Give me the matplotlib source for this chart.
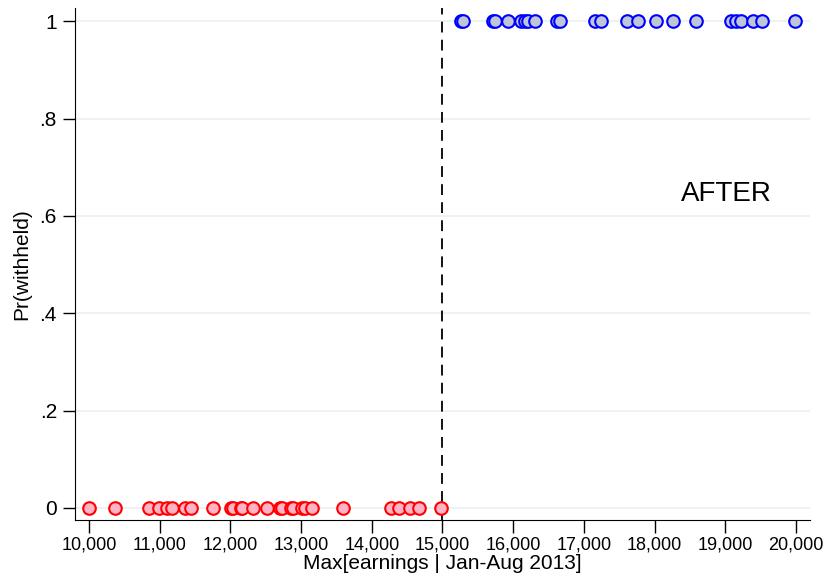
import matplotlib
matplotlib.use("Agg")
import matplotlib.pyplot as plt
from matplotlib.ticker import FuncFormatter

# earnings of units below the threshold (not withheld)
before_x = [10000, 10373, 10845, 10987, 11109, 11171, 11350, 11445, 11747,
            12011, 12040, 12143, 12163, 12313, 12521, 12695, 12724, 12861,
            12885, 13017, 13055, 13159, 13598, 14273, 14391, 14547, 14674,
            14978]
before_y = [0] * len(before_x)

# earnings above the threshold (withheld)
after_x = [15255, 15293, 15712, 15741, 15929, 16105, 16171, 16208, 16303,
           16615, 16662, 17157, 17238, 17606, 17762, 18027, 18263, 18589,
           19079, 19150, 19221, 19387, 19514, 19988]
after_y = [1] * len(after_x)

threshold = 15000
x_ticks = list(range(10000, 20001, 1000))
y_ticks = [0, 0.2, 0.4, 0.6, 0.8, 1.0]
y_ticklabels = ["0", ".2", ".4", ".6", ".8", "1"]

narrow = ["Liberation Sans Narrow", "Liberation Sans", "DejaVu Sans"]
plt.rcParams["font.family"] = ["Liberation Sans", "DejaVu Sans"]

fig = plt.figure(figsize=(8.24, 5.76), dpi=100)
ax = fig.add_axes([0.091, 0.097, 0.892, 0.889])

for yt in y_ticks:
    ax.axhline(yt, color="#eaf0f2", linewidth=1.2, zorder=0)

ax.axvline(threshold, color="black", linewidth=1.3, linestyle=(0, (6, 4)), zorder=1)

ax.scatter(before_x, before_y, s=82, facecolor="#ffb3c6", edgecolor="#ff0000",
           linewidth=1.5, zorder=3)
ax.scatter(after_x, after_y, s=82, facecolor="#bfc7d6", edgecolor="#0000ff",
           linewidth=1.5, zorder=3)

ax.text(19020, 0.645, "AFTER", fontsize=20, ha="center", va="center")

ax.set_xlim(9800, 20200)
ax.set_ylim(-0.025, 1.027)
ax.set_xticks(x_ticks)
ax.xaxis.set_major_formatter(FuncFormatter(lambda v, p: f"{int(v):,}"))
ax.set_yticks(y_ticks)
ax.set_yticklabels(y_ticklabels)

for lab in ax.get_xticklabels():
    lab.set_family(narrow)
    lab.set_fontsize(13)
ax.tick_params(axis="y", labelsize=15, length=9, width=1, pad=4)
ax.tick_params(axis="x", length=9, width=1, pad=3)

ax.set_xlabel("Max[earnings | Jan-Aug 2013]", family=narrow, fontsize=15, labelpad=0)
ax.set_ylabel("Pr(withheld)", fontsize=15, labelpad=6)

ax.spines["top"].set_visible(False)
ax.spines["right"].set_visible(False)

fig.savefig("out.png", dpi=100)
